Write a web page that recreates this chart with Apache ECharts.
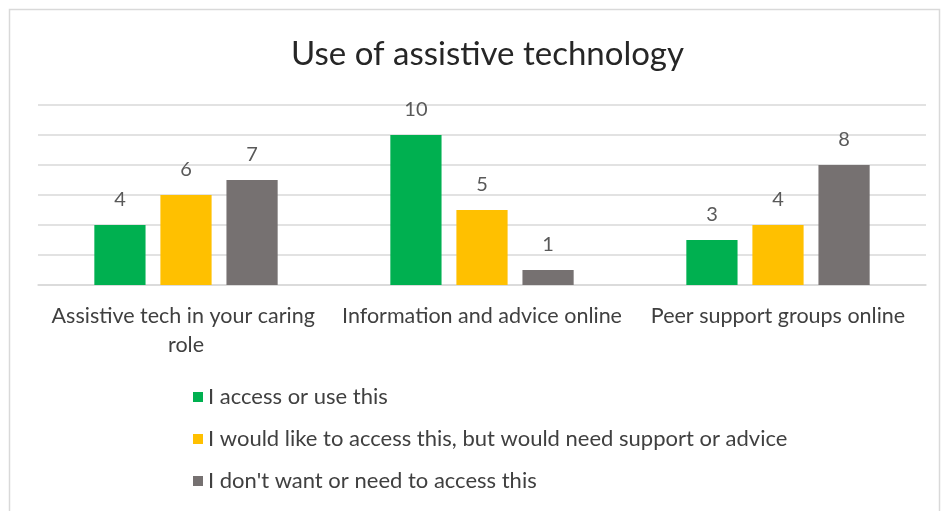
<!DOCTYPE html>
<html>
<head>
<meta charset="utf-8">
<script src="https://cdn.jsdelivr.net/npm/echarts@6/dist/echarts.min.js"></script>
<style>
  html, body { margin: 0; padding: 0; background: #fff; }
  #chart { width: 944px; height: 511px; }
</style>
</head>
<body>
<div id="chart"></div>
<script>
// Survey responses per type of support
const categories = [
  'Assistive tech in your caring role',
  'Information and advice online',
  'Peer support groups online'
];
const seriesNames = [
  'I access or use this',
  'I would like to access this, but would need support or advice',
  "I don't want or need to access this"
];
const accessOrUse = [4, 10, 3];
const wouldLikeSupport = [6, 5, 4];
const dontWantOrNeed = [7, 1, 8];
const seriesColors = ['#00B050', '#FFC000', '#767171'];

const font = 'Lato, "Open Sans", sans-serif';
const chart = echarts.init(document.getElementById('chart'));

const seriesValues = [accessOrUse, wouldLikeSupport, dontWantOrNeed];

chart.setOption({
  animation: false,
  backgroundColor: '#ffffff',
  title: {
    text: 'Use of assistive technology',
    left: 286,
    top: 33,
    textStyle: { fontFamily: font, fontSize: 33, fontWeight: 'normal', color: '#262626' }
  },
  graphic: [{
    type: 'rect',
    shape: { x: 9.5, y: 9.5, width: 930, height: 520 },
    style: { fill: 'none', stroke: '#d9d9d9', lineWidth: 1.5 },
    silent: true
  }],
  legend: {
    orient: 'vertical',
    left: 188,
    top: 381,
    itemGap: 20,
    itemWidth: 10,
    itemHeight: 10,
    icon: 'rect',
    textStyle: { fontFamily: font, fontSize: 22, color: '#404040' },
    data: seriesNames
  },
  grid: { left: 38, right: 18, top: 105, height: 180, containLabel: false },
  xAxis: {
    type: 'category',
    data: categories,
    axisLine: { show: true, lineStyle: { color: '#d9d9d9', width: 1.5 } },
    axisTick: { show: false },
    axisLabel: {
      fontFamily: font, fontSize: 21.5, color: '#404040',
      margin: 17, lineHeight: 29, width: 285, overflow: 'break', interval: 0
    }
  },
  yAxis: {
    type: 'value',
    min: 0, max: 12, interval: 2,
    axisLabel: { show: false },
    axisLine: { show: false },
    axisTick: { show: false },
    splitLine: { lineStyle: { color: '#d9d9d9', width: 1.5 } }
  },
  series: seriesNames.map((name, i) => ({
    name: name,
    type: 'bar',
    data: seriesValues[i],
    barWidth: '17.3%',
    barGap: '29%',
    itemStyle: { color: seriesColors[i] },
    label: {
      show: true, position: 'top', distance: 15,
      fontFamily: font, fontSize: 20, color: '#595959'
    }
  }))
});
</script>
</body>
</html>
